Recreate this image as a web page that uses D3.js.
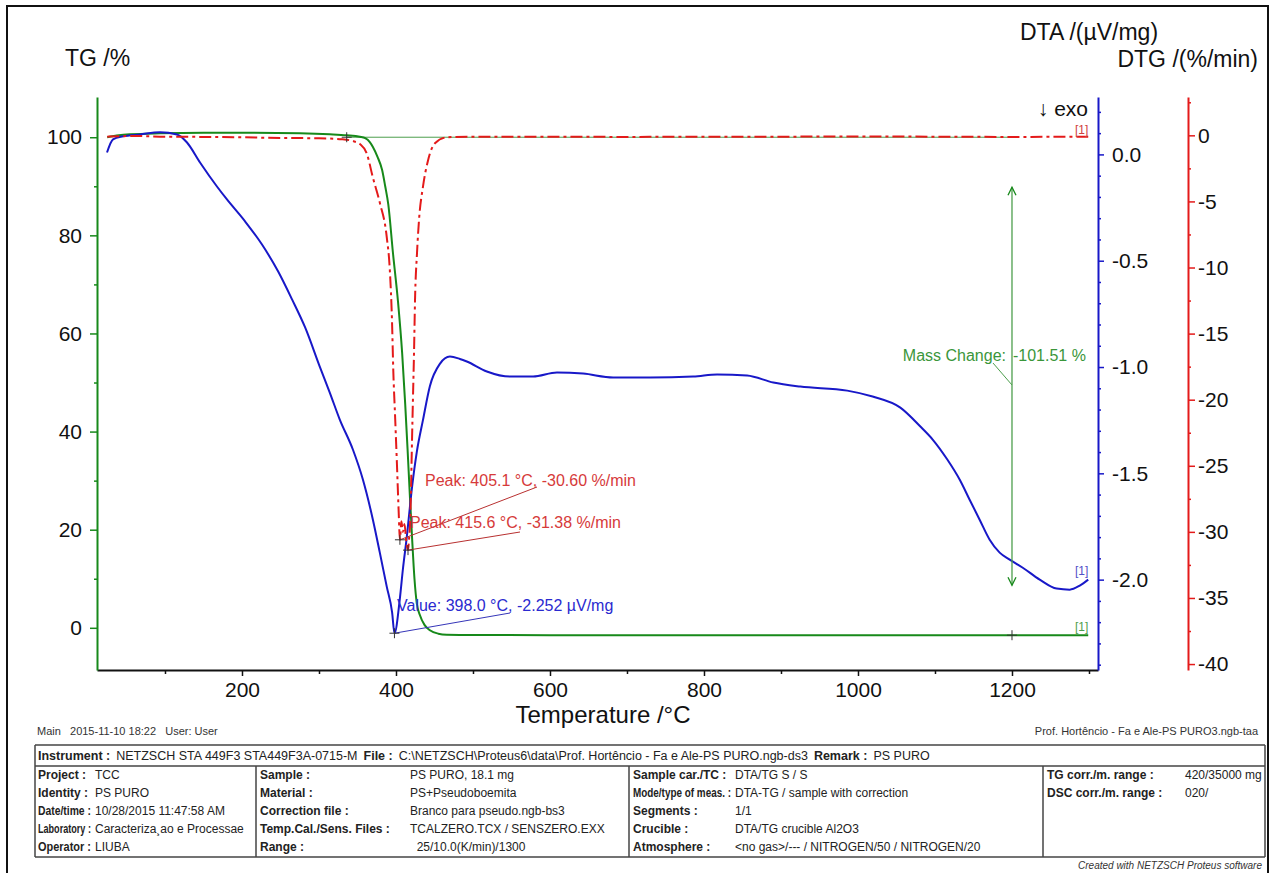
<!DOCTYPE html>
<html>
<head>
<meta charset="utf-8">
<script src="https://cdn.jsdelivr.net/npm/d3@7"></script>
<style>
  body { margin: 0; background: #fff; }
  svg { display: block; font-family: "Liberation Sans", Arial, sans-serif; }
</style>
</head>
<body>
<svg id="chart" width="1273" height="873"></svg>
<script>
// ---- Measurement data (temperature in °C) ----
const tgTemp  = [25, 40, 55, 94, 150, 210, 275, 314, 336, 353, 360, 366, 370, 376, 382, 386, 390, 396, 402.6, 408, 412, 415, 418, 421, 424, 427, 431, 437, 444, 455, 466, 500, 700, 900, 1100, 1299];
const tgValue = [100.0, 100.4, 100.6, 100.8, 100.9, 100.9, 100.8, 100.6, 100.4, 100.1, 99.8, 99.0, 98.0, 96.0, 93.3, 90.0, 86.3, 76.5, 66.5, 56.0, 45.5, 36.5, 27.0, 18.0, 10.0, 5.0, 2.6, 0.6, -0.5, -1.2, -1.4, -1.48, -1.5, -1.5, -1.51, -1.51];

const dtaTemp  = [24.7, 32.5, 45.5, 67.5, 93.5, 115.6, 128.6, 145.5, 167.5, 180.5, 204, 226, 247, 265, 282, 301, 314, 327, 344, 357, 370, 379, 388, 395, 398.0, 405, 409, 414, 421, 427, 435, 444, 457, 470, 483, 492, 518, 548, 578, 609, 643, 682, 730, 786, 817, 856, 890, 925, 986, 1019, 1055, 1081, 1097, 1116, 1132, 1145, 1158, 1171, 1184, 1197, 1214, 1236, 1258, 1275, 1288, 1299];
const dtaValue = [0.009, 0.071, 0.085, 0.094, 0.104, 0.094, 0.056, -0.038, -0.151, -0.212, -0.315, -0.424, -0.551, -0.682, -0.814, -0.998, -1.12, -1.247, -1.388, -1.529, -1.718, -1.873, -2.033, -2.155, -2.252, -2.09, -1.95, -1.80, -1.56, -1.40, -1.25, -1.09, -0.985, -0.951, -0.962, -0.974, -1.021, -1.045, -1.045, -1.026, -1.031, -1.049, -1.049, -1.045, -1.035, -1.040, -1.073, -1.092, -1.111, -1.139, -1.191, -1.28, -1.341, -1.435, -1.529, -1.624, -1.718, -1.812, -1.873, -1.906, -1.944, -2.0, -2.042, -2.047, -2.028, -2.0];

const dtgTemp  = [25, 60, 100, 150, 200, 250, 300, 330, 345, 353, 362, 370, 379, 388, 392, 394.8, 396.5, 399, 401.5, 403.5, 405.1, 407, 409, 411, 413.5, 415.6, 417, 418.2, 419.5, 420.8, 422, 423.4, 424.7, 427.3, 429.9, 435, 441.6, 450.6, 466, 500, 600, 700, 800, 900, 1000, 1100, 1200, 1299];
const dtgValue = [-0.1, -0.05, -0.1, -0.12, -0.15, -0.2, -0.22, -0.3, -0.45, -0.65, -1.36, -3.2, -5.1, -7.7, -10.2, -14.0, -17.8, -21.5, -25.3, -28.5, -30.60, -29.2, -30.0, -29.4, -30.8, -31.38, -30.5, -29.5, -26.8, -23.1, -20.0, -16.5, -12.5, -8.9, -6.4, -3.9, -1.9, -0.6, -0.15, -0.1, -0.1, -0.12, -0.1, -0.1, -0.08, -0.1, -0.12, -0.1];

// ---- Axis ticks ----
const tempTicks = [200, 400, 600, 800, 1000, 1200];
const tempMinor = [100, 300, 500, 700, 900, 1100, 1300];
const tgTicks = [0, 20, 40, 60, 80, 100];
const tgMinor = [10, 30, 50, 70, 90];
const dtaTicks = [0.0, -0.5, -1.0, -1.5, -2.0];
const dtgTicks = [0, -5, -10, -15, -20, -25, -30, -35, -40];

// ---- Evaluated results ----
const dtgPeaks = [
  { t: 405.1, v: -30.60, text: "Peak: 405.1 °C, -30.60 %/min", lx: 425, ly: 486, ax: 537, ay: 487 },
  { t: 415.6, v: -31.38, text: "Peak: 415.6 °C, -31.38 %/min", lx: 410, ly: 528, ax: 520, ay: 532 }
];
const dtaPoint = { t: 398.0, v: -2.252, text: "Value: 398.0 °C, -2.252 µV/mg" };
const massChange = { from: 336, to: 1200, start: 100.0, end: -1.51, text: "-101.51 %" };

// ---- Report footer ----
const headerRow = [["Instrument :", "NETZSCH STA 449F3 STA449F3A-0715-M"], ["File :", "C:\\NETZSCH\\Proteus6\\data\\Prof. Hortêncio - Fa e Ale-PS PURO.ngb-ds3"], ["Remark :", "PS PURO"]];
const col1Labels = ["Project :", "Identity :", "Date/time :", "Laboratory :", "Operator :"];
const col1Values = ["TCC", "PS PURO", "10/28/2015 11:47:58 AM", "Caracteriza¸ao e Processae", "LIUBA"];
const col2Labels = ["Sample :", "Material :", "Correction file :", "Temp.Cal./Sens. Files :", "Range :"];
const col2Values = ["PS PURO, 18.1 mg", "PS+Pseudoboemita", "Branco para pseudo.ngb-bs3", "TCALZERO.TCX / SENSZERO.EXX", "  25/10.0(K/min)/1300"];
const col3Labels = ["Sample car./TC :", "Mode/type of meas. :", "Segments :", "Crucible :", "Atmosphere :"];
const col3Values = ["DTA/TG S / S", "DTA-TG / sample with correction", "1/1", "DTA/TG crucible Al2O3", "<no gas>/--- / NITROGEN/50 / NITROGEN/20"];
const col4Labels = ["TG corr./m. range :", "DSC corr./m. range :"];
const col4Values = ["420/35000 mg", "020/"];

// ---- Colours ----
const GREEN = "#17891a", GREEN_L = "#4d9e4d", BLUE = "#1818c8", RED = "#e41a1a";

const svg = d3.select("#chart");
svg.append("rect").attr("width", 1273).attr("height", 873).attr("fill", "#fff");

// outer frame
svg.append("rect").attr("x", 7).attr("y", 6).attr("width", 1261).attr("height", 870)
  .attr("fill", "none").attr("stroke", "#111").attr("stroke-width", 2);

// ---- Scales ----
const plot = { left: 97, right: 1098, top: 97, bottom: 670 };
const x = d3.scaleLinear().domain([11.7, 1311.7]).range([plot.left, plot.right]);
const yTG = d3.scaleLinear().domain([-8.6, 108.2]).range([plot.bottom, plot.top]);
const yDTA = d3.scaleLinear().domain([-2.425, 0.27]).range([plot.bottom, plot.top]);
const yDTG = d3.scaleLinear().domain([-40.45, 2.9]).range([plot.bottom, plot.top]);

const tickFont = 21;

function styleAxis(g, color, textColor) {
  g.select(".domain").attr("stroke", color).attr("stroke-width", 2);
  g.selectAll(".tick line").attr("stroke", color).attr("stroke-width", 1.5);
  g.selectAll(".tick text").attr("fill", textColor).attr("font-size", tickFont)
    .attr("font-family", "'Liberation Sans', Arial, sans-serif");
}

// X axis (temperature)
const gx = svg.append("g").attr("transform", `translate(0,${plot.bottom})`)
  .call(d3.axisBottom(x).tickValues(tempTicks).tickSize(6).tickSizeOuter(0).tickPadding(6).tickFormat(d3.format("d")));
styleAxis(gx, "#111", "#111");
const gxm = svg.append("g").attr("transform", `translate(0,${plot.bottom})`)
  .call(d3.axisBottom(x).tickValues(tempMinor).tickSize(4).tickSizeOuter(0).tickFormat(""));
gxm.select(".domain").remove();
gxm.selectAll(".tick line").attr("stroke", "#111").attr("stroke-width", 1.5);

// TG axis (left, green)
const gtg = svg.append("g").attr("transform", `translate(${plot.left},0)`)
  .call(d3.axisLeft(yTG).tickValues(tgTicks).tickSize(7).tickSizeOuter(0).tickPadding(8).tickFormat(d3.format("d")));
styleAxis(gtg, GREEN, "#111");
const gtgm = svg.append("g").attr("transform", `translate(${plot.left},0)`)
  .call(d3.axisLeft(yTG).tickValues(tgMinor).tickSize(3).tickSizeOuter(0).tickFormat(""));
gtgm.select(".domain").remove();
gtgm.selectAll(".tick line").attr("stroke", GREEN).attr("stroke-width", 1.5);

// DTA axis (right, blue)
const dtaMinor = d3.range(2, -25, -1).map(d => d / 10).filter(d => Math.abs(d * 2 - Math.round(d * 2)) > 1e-9);
const gdta = svg.append("g").attr("transform", `translate(${plot.right},0)`)
  .call(d3.axisRight(yDTA).tickValues(dtaTicks).tickSize(6).tickSizeOuter(0).tickPadding(8).tickFormat(d => d.toFixed(1)));
styleAxis(gdta, BLUE, "#111");
const gdtam = svg.append("g").attr("transform", `translate(${plot.right},0)`)
  .call(d3.axisRight(yDTA).tickValues(dtaMinor).tickSize(3).tickSizeOuter(0).tickFormat(""));
gdtam.select(".domain").remove();
gdtam.selectAll(".tick line").attr("stroke", BLUE).attr("stroke-width", 1.5);

// DTG axis (far right, red)
const dtgAxisX = 1188;
const dtgMinor = [2.5, -2.5, -7.5, -12.5, -17.5, -22.5, -27.5, -32.5, -37.5];
const gdtg = svg.append("g").attr("transform", `translate(${dtgAxisX},0)`)
  .call(d3.axisRight(yDTG).tickValues(dtgTicks).tickSize(7).tickSizeOuter(0).tickPadding(3).tickFormat(d => String(d)));
styleAxis(gdtg, RED, "#111");
const gdtgm = svg.append("g").attr("transform", `translate(${dtgAxisX},0)`)
  .call(d3.axisRight(yDTG).tickValues(dtgMinor).tickSize(3).tickSizeOuter(0).tickFormat(""));
gdtgm.select(".domain").remove();
gdtgm.selectAll(".tick line").attr("stroke", RED).attr("stroke-width", 1.5);

// ---- Axis titles ----
const title = (t, px, py, anchor, size) => svg.append("text").attr("x", px).attr("y", py)
  .attr("text-anchor", anchor).attr("font-size", size).attr("fill", "#111").text(t);
title("TG /%", 65, 66, "start", 23);
title("DTA /(µV/mg)", 1020, 40, "start", 23);
title("DTG /(%/min)", 1258, 67, "end", 23);
title("Temperature /°C", 603, 723, "middle", 24);
title("↓ exo", 1088, 116, "end", 21);

// ---- Mass change reference ----
const mcX = x(massChange.to);
svg.append("line").attr("x1", x(massChange.from)).attr("x2", mcX)
  .attr("y1", yTG(massChange.start)).attr("y2", yTG(massChange.start))
  .attr("stroke", GREEN_L).attr("stroke-width", 1);

// ---- Curves ----
const lineOf = (xs, ys, yScale) => d3.line().curve(d3.curveMonotoneX)
  .x((d, i) => x(xs[i])).y((d, i) => yScale(ys[i]))(xs);

svg.append("path").attr("d", lineOf(tgTemp, tgValue, yTG))
  .attr("fill", "none").attr("stroke", GREEN).attr("stroke-width", 2);
svg.append("path").attr("d", lineOf(dtaTemp, dtaValue, yDTA))
  .attr("fill", "none").attr("stroke", BLUE).attr("stroke-width", 2);
svg.append("path").attr("d", lineOf(dtgTemp, dtgValue, yDTG))
  .attr("fill", "none").attr("stroke", RED).attr("stroke-width", 2)
  .attr("stroke-dasharray", "12,4,3,4");

// segment labels at curve ends
const endTag = (px, py, color) => svg.append("text").attr("x", px).attr("y", py)
  .attr("font-size", 12).attr("fill", color).attr("text-anchor", "end").text("[1]");
endTag(x(1299), yDTG(-0.1) - 3, "#d04040");
endTag(x(1299), yDTA(-2.0) - 5, "#5050c8");
endTag(x(1299), yTG(-1.51) - 4, "#4d9e4d");

// ---- Mass change arrow ----
const mcTop = yTG(massChange.start) + 50, mcBot = yTG(massChange.end) - 50;
svg.append("line").attr("x1", mcX).attr("x2", mcX).attr("y1", mcTop).attr("y2", mcBot)
  .attr("stroke", GREEN_L).attr("stroke-width", 1.3);
svg.append("path").attr("d", `M${mcX - 4},${mcTop + 8}L${mcX},${mcTop}L${mcX + 4},${mcTop + 8}`)
  .attr("fill", "none").attr("stroke", GREEN).attr("stroke-width", 1.3);
svg.append("path").attr("d", `M${mcX - 4},${mcBot - 8}L${mcX},${mcBot}L${mcX + 4},${mcBot - 8}`)
  .attr("fill", "none").attr("stroke", GREEN).attr("stroke-width", 1.3);
svg.append("text").attr("x", mcX - 6).attr("y", 361).attr("text-anchor", "end")
  .attr("font-size", 16).attr("fill", "#3a963a").text("Mass Change:");
svg.append("text").attr("x", mcX + 1).attr("y", 361).attr("text-anchor", "start")
  .attr("font-size", 16).attr("fill", "#3a963a").text(massChange.text);
svg.append("line").attr("x1", mcX - 19).attr("y1", 363).attr("x2", mcX).attr("y2", 385)
  .attr("stroke", GREEN_L).attr("stroke-width", 1);

// ---- Markers ----
function cross(px, py) {
  svg.append("path").attr("d", `M${px - 5},${py}H${px + 5}M${px},${py - 5}V${py + 5}`)
    .attr("stroke", "#333").attr("stroke-width", 1);
}
cross(x(massChange.from), yTG(massChange.start));
cross(mcX, yTG(massChange.end));

// DTG peak annotations
dtgPeaks.forEach(p => {
  const px = x(p.t), py = yDTG(p.v);
  svg.append("line").attr("x1", p.ax).attr("y1", p.ay).attr("x2", px).attr("y2", py)
    .attr("stroke", "#b83030").attr("stroke-width", 1);
  cross(px, py);
  svg.append("text").attr("x", p.lx).attr("y", p.ly).attr("font-size", 16)
    .attr("fill", "#d63a3a").text(p.text);
});

// DTA value annotation
{
  const px = x(dtaPoint.t), py = yDTA(dtaPoint.v);
  svg.append("line").attr("x1", 510).attr("y1", 613).attr("x2", px).attr("y2", py)
    .attr("stroke", "#3535b8").attr("stroke-width", 1);
  cross(px, py);
  svg.append("text").attr("x", 397).attr("y", 611).attr("font-size", 16)
    .attr("fill", "#2a2ad0").text(dtaPoint.text);
}

// ---- Report footer ----
const small = 11;
svg.append("text").attr("x", 37).attr("y", 735).attr("font-size", small).attr("fill", "#333")
  .attr("xml:space", "preserve").text("Main   2015-11-10 18:22   User: User");
svg.append("text").attr("x", 1258).attr("y", 735).attr("font-size", small).attr("fill", "#333")
  .attr("text-anchor", "end").text("Prof. Hortêncio - Fa e Ale-PS PURO3.ngb-taa");

const tbl = { left: 35, right: 1265, top: 745, mid: 766, bottom: 857 };
const fcol = "#222";
const hl = (y) => svg.append("line").attr("x1", tbl.left).attr("x2", tbl.right).attr("y1", y).attr("y2", y)
  .attr("stroke", "#444").attr("stroke-width", 1.5);
hl(tbl.top); hl(tbl.mid); hl(tbl.bottom);
[tbl.left, tbl.right].forEach(vx => svg.append("line").attr("x1", vx).attr("x2", vx)
  .attr("y1", tbl.top).attr("y2", tbl.bottom).attr("stroke", "#444").attr("stroke-width", 1.5));
[256, 629, 1043].forEach(vx => svg.append("line").attr("x1", vx).attr("x2", vx)
  .attr("y1", tbl.mid).attr("y2", tbl.bottom).attr("stroke", "#444").attr("stroke-width", 1.5));

const fsize = 12;
// header row: label/value pairs laid out one after another
{
  let cx = 38;
  headerRow.forEach(([lab, val]) => {
    const t1 = svg.append("text").attr("x", cx).attr("y", 760).attr("font-size", 12.5)
      .attr("font-weight", "bold").attr("fill", fcol).text(lab);
    cx += t1.node().getComputedTextLength() + 6;
    const t2 = svg.append("text").attr("x", cx).attr("y", 760).attr("font-size", 12.5)
      .attr("fill", fcol).text(val);
    cx += t2.node().getComputedTextLength() + 6;
  });
}
const rowY = [779, 797, 815, 833, 851];
// bold label, narrowed horizontally when it would reach its value
function label(txt, lx, ly, maxW) {
  const g = svg.append("g").attr("transform", `translate(${lx},${ly})`);
  const t = g.append("text").attr("font-size", fsize).attr("font-weight", "bold").attr("fill", fcol).text(txt);
  const w = t.node().getComputedTextLength();
  if (w > maxW) g.attr("transform", `translate(${lx},${ly}) scale(${maxW / w},1)`);
}
function column(labels, values, lx, vx) {
  labels.forEach((l, i) => {
    label(l, lx, rowY[i], vx - lx - 4);
    svg.append("text").attr("x", vx).attr("y", rowY[i]).attr("font-size", fsize)
      .attr("xml:space", "preserve").attr("fill", fcol).text(values[i]);
  });
}
column(col1Labels, col1Values, 38, 95);
column(col2Labels, col2Values, 260, 410);
column(col3Labels, col3Values, 633, 735);
column(col4Labels, col4Values, 1047, 1185);

svg.append("text").attr("x", 1262).attr("y", 869).attr("font-size", 10).attr("font-style", "italic")
  .attr("text-anchor", "end").attr("fill", "#333").text("Created with NETZSCH Proteus software");
</script>
</body>
</html>
